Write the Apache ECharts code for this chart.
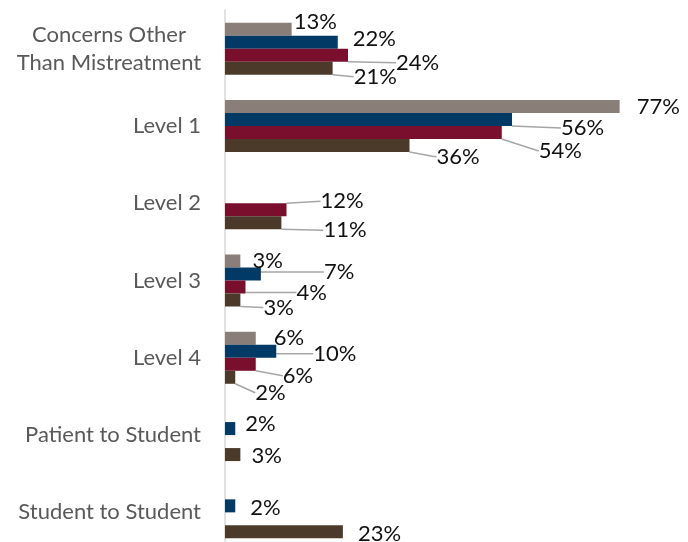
<!DOCTYPE html>
<html>
<head>
<meta charset="utf-8">
<script src="https://cdn.jsdelivr.net/npm/echarts@6/dist/echarts.min.js"></script>
<style>html,body{margin:0;padding:0;background:#fff;overflow:hidden}#c{width:688px;height:551px}</style>
</head>
<body>
<div id="c"></div>
<script>
const categories = ['Concerns Other\nThan Mistreatment','Level 1','Level 2','Level 3','Level 4','Patient to Student','Student to Student'];
const seriesNames = ['Series 1','Series 2','Series 3','Series 4'];
const grayValues   = [13, 77, null, 3, 6, null, null];
const navyValues   = [22, 56, null, 7, 10, 2, 2];
const maroonValues = [24, 54, 12, 4, 6, null, null];
const brownValues  = [21, 36, 11, 3, 2, 3, 23];
const allValues = [grayValues, navyValues, maroonValues, brownValues];
const colors = ['#8A7E79', '#023A66', '#7A0E2D', '#4B3A2A'];

// label offsets (dx, dy) relative to default 'right' position, and whether a leader line is drawn
const labelOffsets = [
  [[-3,-7],[12,0],null,[7,0],[13,0],null,null],
  [[10,-3],[44,8.5],null,[58,-2],[32,2.5],[5,-4.5],[10,2.5]],
  [[43,7.5],[32,18.5],[29,-8.5],[46,5.5],[22,11.5],null,null],
  [[16,8.5],[22,11.5],[37,7.5],[18,7.5],[15,15.5],[6,1.5],[10,2.5]]
];
const leaderLines = [
  [0,0,0,0,0,0,0],
  [0,1,0,1,1,0,0],
  [1,1,1,1,1,0,0],
  [1,1,1,1,1,0,0]
];

const FONT = 'Lato';
const chart = echarts.init(document.getElementById('c'));
const series = allValues.map((vals, si) => ({
  name: seriesNames[si],
  type: 'bar',
  barWidth: 13,
  barGap: '0%',
  itemStyle: { color: colors[si] },
  data: vals.map((v, ci) => ({
    value: v,
    labelLine: { show: !!leaderLines[si][ci] }
  })),
  label: {
    show: true,
    position: 'right',
    distance: 5,
    formatter: p => p.value == null ? '' : p.value + '%',
    color: '#111',
    fontFamily: FONT,
    fontSize: 22
  },
  labelLine: { show: false, lineStyle: { color: '#A6A6A6', width: 1.5 } },
  labelLayout: p => {
    const o = labelOffsets[p.seriesIndex][p.dataIndex];
    return o ? { dx: o[0], dy: o[1] } : {};
  }
}));

chart.setOption({
  animation: false,
  grid: { left: 225, top: 10, width: 410, height: 541 },
  xAxis: { type: 'value', min: 0, max: 80, show: false },
  yAxis: {
    type: 'category',
    inverse: true,
    data: categories,
    axisLine: { show: true, lineStyle: { color: '#D9D9D9', width: 1.5 } },
    axisTick: { show: false },
    axisLabel: {
      color: '#595959', fontFamily: FONT, fontSize: 22, margin: 24, lineHeight: 28,
      formatter: v => v.indexOf('\n') >= 0 ? v.split('\n').map(s => '{c|' + s + '}').join('\n') : v,
      rich: { c: { width: 184, align: 'center', color: '#595959', fontFamily: FONT, fontSize: 22, lineHeight: 28 } }
    }
  },
  series: series
});
</script>
</body>
</html>
